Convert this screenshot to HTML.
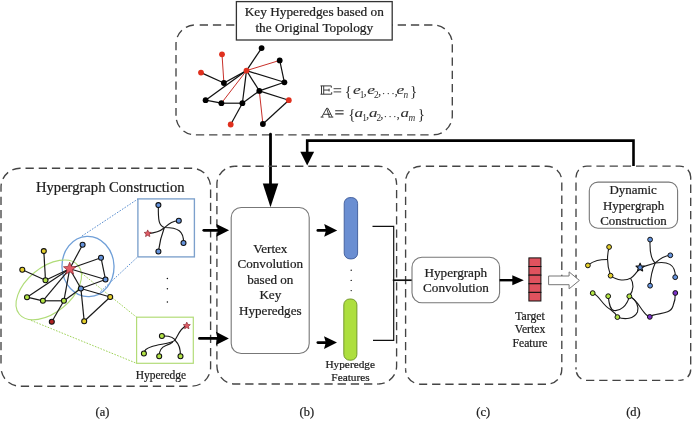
<!DOCTYPE html>
<html><head><meta charset="utf-8"><style>
html,body{margin:0;padding:0;background:#fff;}
svg{display:block;will-change:transform;}
.f{font-family:"Liberation Serif",serif;}
.t{font-family:"Liberation Serif",serif;fill:#202020;stroke:#202020;stroke-width:0.22px;}
</style></head><body>
<svg width="693" height="423" viewBox="0 0 693 423">
<rect width="693" height="423" fill="#fff"/>
<path d="M195,25 H433.3 A19,19 0 0 1 452.3,44" stroke="#444" stroke-width="1.35" fill="none" stroke-dasharray="8.3 4.90" stroke-dashoffset="8.50"/>
<path d="M452.3,44 V115.80000000000001 A19,19 0 0 1 433.3,134.8" stroke="#444" stroke-width="1.35" fill="none" stroke-dasharray="8.3 4.90" stroke-dashoffset="12.90"/>
<path d="M433.3,134.8 H195 A19,19 0 0 1 176,115.80000000000001" stroke="#444" stroke-width="1.35" fill="none" stroke-dasharray="8.3 4.90" stroke-dashoffset="8.50"/>
<path d="M176,115.80000000000001 V44 A19,19 0 0 1 195,25" stroke="#444" stroke-width="1.35" fill="none" stroke-dasharray="8.3 4.90" stroke-dashoffset="0.40"/>
<rect x="236.4" y="1.6" width="155.8" height="38.4" fill="#fff" stroke="#333" stroke-width="1.3"/>
<text x="314.3" y="16.3" class="t" font-size="13.3" text-anchor="middle">Key Hyperedges based on</text>
<text x="314.3" y="31.8" class="t" font-size="13.3" text-anchor="middle">the Original Topology</text>
<line x1="246.5" y1="70.6" x2="261.6" y2="48.1" stroke="#111" stroke-width="1.2"/>
<line x1="246.5" y1="70.6" x2="279.7" y2="60.4" stroke="#c8302a" stroke-width="1.0"/>
<line x1="279.7" y1="60.4" x2="284.4" y2="82.3" stroke="#111" stroke-width="1.2"/>
<line x1="246.5" y1="70.6" x2="284.4" y2="82.3" stroke="#111" stroke-width="1.2"/>
<line x1="222" y1="54.3" x2="223.9" y2="83" stroke="#c8302a" stroke-width="1.0"/>
<line x1="201" y1="72.6" x2="223.9" y2="83" stroke="#111" stroke-width="1.2"/>
<line x1="223.9" y1="83" x2="246.5" y2="70.6" stroke="#111" stroke-width="1.2"/>
<line x1="246.5" y1="70.6" x2="205.6" y2="100.2" stroke="#111" stroke-width="1.2"/>
<line x1="246.5" y1="70.6" x2="221.4" y2="103.2" stroke="#c8302a" stroke-width="1.0"/>
<line x1="246.5" y1="70.6" x2="242.4" y2="103.2" stroke="#111" stroke-width="1.2"/>
<line x1="246.5" y1="70.6" x2="259.3" y2="90.9" stroke="#111" stroke-width="1.2"/>
<line x1="205.6" y1="100.2" x2="221.4" y2="103.2" stroke="#111" stroke-width="1.2"/>
<line x1="221.4" y1="103.2" x2="242.4" y2="103.2" stroke="#111" stroke-width="1.2"/>
<line x1="242.4" y1="103.2" x2="259.3" y2="90.9" stroke="#111" stroke-width="1.2"/>
<line x1="259.3" y1="90.9" x2="284.4" y2="82.3" stroke="#111" stroke-width="1.2"/>
<line x1="259.3" y1="90.9" x2="288.8" y2="100.2" stroke="#111" stroke-width="1.2"/>
<line x1="259.3" y1="90.9" x2="262.9" y2="124" stroke="#c8302a" stroke-width="1.0"/>
<line x1="262.9" y1="124" x2="288.8" y2="100.2" stroke="#111" stroke-width="1.2"/>
<line x1="242.4" y1="103.2" x2="230.7" y2="124.5" stroke="#111" stroke-width="1.2"/>
<circle cx="261.6" cy="48.1" r="2.9" fill="#000"/>
<circle cx="222" cy="54.3" r="2.9" fill="#e0301e"/>
<circle cx="201" cy="72.6" r="2.9" fill="#e0301e"/>
<circle cx="246.5" cy="70.6" r="2.9" fill="#e0301e"/>
<circle cx="279.7" cy="60.4" r="2.9" fill="#000"/>
<circle cx="223.9" cy="83" r="2.9" fill="#000"/>
<circle cx="284.4" cy="82.3" r="2.9" fill="#000"/>
<circle cx="259.3" cy="90.9" r="2.9" fill="#000"/>
<circle cx="205.6" cy="100.2" r="2.9" fill="#000"/>
<circle cx="221.4" cy="103.2" r="2.9" fill="#000"/>
<circle cx="242.4" cy="103.2" r="2.9" fill="#000"/>
<circle cx="288.8" cy="100.2" r="2.9" fill="#e0301e"/>
<circle cx="230.7" cy="124.5" r="2.9" fill="#e0301e"/>
<circle cx="262.9" cy="124" r="2.9" fill="#000"/>
<path d="M320.5,85.9 H331.3 V87.7 M320.5,94.2 H331.7 V92.2 M321.5,85.9 V94.2 M323.7,85.9 V94.2 M323.7,90.05000000000001 H329.1 M329.1,88.65 V91.45000000000002" fill="none" stroke="#303030" stroke-width="0.95"/>
<path d="M333.6,88.7 H341.20000000000005 M333.6,91.89999999999999 H341.20000000000005" stroke="#303030" stroke-width="0.9"/>
<text transform="translate(344.8 96.0) scale(1.0 1)" font-size="15" fill="#303030" class="f" text-anchor="start">{</text>
<text transform="translate(352.9 94.1) scale(1.32 1)" font-size="13.2" font-style="italic" fill="#303030" stroke="#303030" stroke-width="0.12" class="f" text-anchor="start">e</text>
<text transform="translate(359.79999999999995 97.9) scale(1.0 1)" font-size="9.3" fill="#303030" class="f" text-anchor="start">1</text>
<text transform="translate(363.59999999999997 94.6) scale(1.0 1)" font-size="13" fill="#303030" class="f" text-anchor="start">,</text>
<text transform="translate(367.2 94.1) scale(1.32 1)" font-size="13.2" font-style="italic" fill="#303030" stroke="#303030" stroke-width="0.12" class="f" text-anchor="start">e</text>
<text transform="translate(374.09999999999997 97.9) scale(1.0 1)" font-size="9.3" fill="#303030" class="f" text-anchor="start">2</text>
<text transform="translate(377.9 94.6) scale(1.0 1)" font-size="13" fill="#303030" class="f" text-anchor="start">,</text>
<circle cx="383.60" cy="93.6" r="0.72" fill="#303030"/>
<circle cx="388.30" cy="93.6" r="0.72" fill="#303030"/>
<circle cx="393.00" cy="93.6" r="0.72" fill="#303030"/>
<text transform="translate(394.6 94.6) scale(1.0 1)" font-size="13" fill="#303030" class="f" text-anchor="start">,</text>
<text transform="translate(396.6 94.1) scale(1.32 1)" font-size="13.2" font-style="italic" fill="#303030" stroke="#303030" stroke-width="0.12" class="f" text-anchor="start">e</text>
<text transform="translate(403.4 97.9) scale(1.0 1)" font-size="9.3" font-style="italic" fill="#303030" class="f" text-anchor="start">n</text>
<text transform="translate(409.9 96.0) scale(1.0 1)" font-size="15" fill="#303030" class="f" text-anchor="start">}</text>
<path d="M321.8,117.1 L326.59999999999997,108.3 H327.9 L332.2,117.1 M326.59999999999997,108.3 L329.40000000000003,117.1 M323.4,114.3 H330.6 M320.6,117.1 H323.6 M328.40000000000003,117.1 H333.3" fill="none" stroke="#303030" stroke-width="0.95"/>
<path d="M335.2,110.7 H343.59999999999997 M335.2,113.89999999999999 H343.59999999999997" stroke="#303030" stroke-width="1.1"/>
<text transform="translate(348.3 118.9) scale(1.0 1)" font-size="15" fill="#303030" class="f" text-anchor="start">{</text>
<text transform="translate(354.6 117.1) scale(1.28 1)" font-size="13.2" font-style="italic" fill="#303030" stroke="#303030" stroke-width="0.12" class="f" text-anchor="start">a</text>
<text transform="translate(362.3 120.9) scale(1.0 1)" font-size="9.3" fill="#303030" class="f" text-anchor="start">1</text>
<text transform="translate(365.90000000000003 117.6) scale(1.0 1)" font-size="13" fill="#303030" class="f" text-anchor="start">,</text>
<text transform="translate(368.9 117.1) scale(1.28 1)" font-size="13.2" font-style="italic" fill="#303030" stroke="#303030" stroke-width="0.12" class="f" text-anchor="start">a</text>
<text transform="translate(376.59999999999997 120.9) scale(1.0 1)" font-size="9.3" fill="#303030" class="f" text-anchor="start">2</text>
<text transform="translate(380.2 117.6) scale(1.0 1)" font-size="13" fill="#303030" class="f" text-anchor="start">,</text>
<circle cx="385.40" cy="116.6" r="0.72" fill="#303030"/>
<circle cx="390.10" cy="116.6" r="0.72" fill="#303030"/>
<circle cx="394.80" cy="116.6" r="0.72" fill="#303030"/>
<text transform="translate(396.6 117.6) scale(1.0 1)" font-size="13" fill="#303030" class="f" text-anchor="start">,</text>
<text transform="translate(400.6 117.1) scale(1.28 1)" font-size="13.2" font-style="italic" fill="#303030" stroke="#303030" stroke-width="0.12" class="f" text-anchor="start">a</text>
<text transform="translate(408.4 120.9) scale(1.0 1)" font-size="9.3" font-style="italic" fill="#303030" class="f" text-anchor="start">m</text>
<text transform="translate(417.8 118.9) scale(1.0 1)" font-size="15" fill="#303030" class="f" text-anchor="start">}</text>
<line x1="270.5" y1="134.2" x2="270.5" y2="186" stroke="#000" stroke-width="2.8" stroke-linecap="round"/>
<polygon points="262.8,183.4 278.3,183.4 270.5,207.2 " fill="#000"/>
<polyline points="633.5,166 633.5,140.6 307.2,140.6 307.2,154" fill="none" stroke="#000" stroke-width="2.6"/>
<polygon points="300.3,151.8 314.1,151.8 307.2,165.5" fill="#000"/>
<path d="M20,168.2 H191.6 A19,19 0 0 1 210.6,187.2" stroke="#444" stroke-width="1.35" fill="none" stroke-dasharray="8.3 4.90" stroke-dashoffset="7.70"/>
<path d="M210.6,187.2 V367.2 A19,19 0 0 1 191.6,386.2" stroke="#444" stroke-width="1.35" fill="none" stroke-dasharray="8.3 4.90" stroke-dashoffset="10.80"/>
<path d="M191.6,386.2 H20 A19,19 0 0 1 1,367.2" stroke="#444" stroke-width="1.35" fill="none" stroke-dasharray="8.3 4.90" stroke-dashoffset="9.10"/>
<path d="M1,367.2 V187.2 A19,19 0 0 1 20,168.2" stroke="#444" stroke-width="1.35" fill="none" stroke-dasharray="8.3 4.90" stroke-dashoffset="9.40"/>
<path d="M234.9,166.2 H378.6 A18,18 0 0 1 396.6,184.2" stroke="#444" stroke-width="1.35" fill="none" stroke-dasharray="8.3 4.90" stroke-dashoffset="5.80"/>
<path d="M396.6,184.2 V366.0 A18,18 0 0 1 378.6,384.0" stroke="#444" stroke-width="1.35" fill="none" stroke-dasharray="8.3 4.90" stroke-dashoffset="7.50"/>
<path d="M378.6,384.0 H234.9 A18,18 0 0 1 216.9,366.0" stroke="#444" stroke-width="1.35" fill="none" stroke-dasharray="8.3 4.90" stroke-dashoffset="6.90"/>
<path d="M216.9,366.0 V184.2 A18,18 0 0 1 234.9,166.2" stroke="#444" stroke-width="1.35" fill="none" stroke-dasharray="8.3 4.90" stroke-dashoffset="6.70"/>
<path d="M420.6,166.2 H546.8 A15,15 0 0 1 561.8,181.2" stroke="#444" stroke-width="1.35" fill="none" stroke-dasharray="8.3 4.90" stroke-dashoffset="8.00"/>
<path d="M561.8,181.2 V369.2 A15,15 0 0 1 546.8,384.2" stroke="#444" stroke-width="1.35" fill="none" stroke-dasharray="8.3 4.90" stroke-dashoffset="12.00"/>
<path d="M546.8,384.2 H420.6 A15,15 0 0 1 405.6,369.2" stroke="#444" stroke-width="1.35" fill="none" stroke-dasharray="8.3 4.90" stroke-dashoffset="12.40"/>
<path d="M405.6,369.2 V181.2 A15,15 0 0 1 420.6,166.2" stroke="#444" stroke-width="1.35" fill="none" stroke-dasharray="8.3 4.90" stroke-dashoffset="7.40"/>
<path d="M587.0,166.1 H679.7 A11,11 0 0 1 690.7,177.1" stroke="#444" stroke-width="1.35" fill="none" stroke-dasharray="8.3 4.90" stroke-dashoffset="3.80"/>
<path d="M690.7,177.1 V369.4 A11,11 0 0 1 679.7,380.4" stroke="#444" stroke-width="1.35" fill="none" stroke-dasharray="8.3 4.90" stroke-dashoffset="5.70"/>
<path d="M679.7,380.4 H587.0 A11,11 0 0 1 576.0,369.4" stroke="#444" stroke-width="1.35" fill="none" stroke-dasharray="8.3 4.90" stroke-dashoffset="7.00"/>
<path d="M576.0,369.4 V177.1 A11,11 0 0 1 587.0,166.1" stroke="#444" stroke-width="1.35" fill="none" stroke-dasharray="8.3 4.90" stroke-dashoffset="6.10"/>
<text x="36" y="191.6" class="t" font-size="14.6">Hypergraph Construction</text>
<rect x="137.9" y="198.9" width="56.5" height="58" fill="none" stroke="#7ca0cc" stroke-width="1.35"/>
<rect x="136.6" y="317.2" width="56.7" height="46.1" fill="none" stroke="#b3dc78" stroke-width="1.2"/>
<line x1="82" y1="236" x2="137.9" y2="199" stroke="#5b8fd0" stroke-width="1" stroke-dasharray="1.6 1.4"/>
<line x1="100.5" y1="291.6" x2="137.9" y2="256.7" stroke="#5b8fd0" stroke-width="1" stroke-dasharray="1.6 1.4"/>
<line x1="79.5" y1="271.5" x2="136.6" y2="317.2" stroke="#9fd35a" stroke-width="1" stroke-dasharray="1.6 1.4"/>
<line x1="31" y1="320.4" x2="136.6" y2="363.3" stroke="#9fd35a" stroke-width="1" stroke-dasharray="1.6 1.4"/>
<ellipse cx="88" cy="266.5" rx="26" ry="30.2" transform="rotate(-2.2 88 266.5)" fill="none" stroke="#6f9fd8" stroke-width="1.3"/>
<ellipse cx="48.8" cy="289.9" rx="38.2" ry="22.5" transform="rotate(-39.6 48.8 289.9)" fill="none" stroke="#b0dc78" stroke-width="1.15"/>
<line x1="69.7" y1="268.8" x2="82.6" y2="244.7" stroke="#1a1a1a" stroke-width="1.2"/>
<line x1="69.7" y1="268.8" x2="101" y2="257.7" stroke="#1a1a1a" stroke-width="1.2"/>
<line x1="69.7" y1="268.8" x2="105.5" y2="279.5" stroke="#1a1a1a" stroke-width="1.2"/>
<line x1="69.7" y1="268.8" x2="80.9" y2="288.5" stroke="#1a1a1a" stroke-width="1.2"/>
<line x1="101" y1="257.7" x2="105.5" y2="279.5" stroke="#1a1a1a" stroke-width="1.2"/>
<line x1="105.5" y1="279.5" x2="80.9" y2="288.5" stroke="#1a1a1a" stroke-width="1.2"/>
<line x1="80.9" y1="288.5" x2="110.2" y2="297" stroke="#1a1a1a" stroke-width="1.2"/>
<line x1="80.9" y1="288.5" x2="84.2" y2="321.3" stroke="#1a1a1a" stroke-width="1.2"/>
<line x1="84.2" y1="321.3" x2="110.2" y2="297" stroke="#1a1a1a" stroke-width="1.2"/>
<line x1="80.9" y1="288.5" x2="63.9" y2="300.8" stroke="#1a1a1a" stroke-width="1.2"/>
<line x1="69.7" y1="268.8" x2="45.5" y2="280.2" stroke="#1a1a1a" stroke-width="1.2"/>
<line x1="69.7" y1="268.8" x2="27" y2="297.2" stroke="#1a1a1a" stroke-width="1.2"/>
<line x1="69.7" y1="268.8" x2="42.9" y2="300.8" stroke="#1a1a1a" stroke-width="1.2"/>
<line x1="69.7" y1="268.8" x2="63.9" y2="300.8" stroke="#1a1a1a" stroke-width="1.2"/>
<line x1="43.8" y1="251.1" x2="45.5" y2="280.2" stroke="#1a1a1a" stroke-width="1.2"/>
<line x1="22.3" y1="269.8" x2="45.5" y2="280.2" stroke="#1a1a1a" stroke-width="1.2"/>
<line x1="27" y1="297.2" x2="42.9" y2="300.8" stroke="#1a1a1a" stroke-width="1.2"/>
<line x1="42.9" y1="300.8" x2="63.9" y2="300.8" stroke="#1a1a1a" stroke-width="1.2"/>
<line x1="63.9" y1="300.8" x2="51.8" y2="321.8" stroke="#1a1a1a" stroke-width="1.2"/>
<circle cx="82.6" cy="244.7" r="2.5" fill="#6593dc" stroke="#111" stroke-width="1.05"/>
<circle cx="101" cy="257.7" r="2.5" fill="#6593dc" stroke="#111" stroke-width="1.05"/>
<circle cx="105.5" cy="279.5" r="2.5" fill="#6593dc" stroke="#111" stroke-width="1.05"/>
<circle cx="80.9" cy="288.5" r="2.5" fill="#6593dc" stroke="#111" stroke-width="1.05"/>
<circle cx="43.8" cy="251.1" r="2.5" fill="#e5cf2c" stroke="#111" stroke-width="1.05"/>
<circle cx="22.3" cy="269.8" r="2.5" fill="#e5cf2c" stroke="#111" stroke-width="1.05"/>
<circle cx="45.5" cy="280.2" r="2.5" fill="#b2e445" stroke="#111" stroke-width="1.05"/>
<circle cx="27" cy="297.2" r="2.5" fill="#b2e445" stroke="#111" stroke-width="1.05"/>
<circle cx="42.9" cy="300.8" r="2.5" fill="#b2e445" stroke="#111" stroke-width="1.05"/>
<circle cx="63.9" cy="300.8" r="2.5" fill="#b2e445" stroke="#111" stroke-width="1.05"/>
<circle cx="51.8" cy="321.8" r="2.5" fill="#b02020" stroke="#111" stroke-width="1.05"/>
<circle cx="84.2" cy="321.3" r="2.5" fill="#e5cf2c" stroke="#111" stroke-width="1.05"/>
<circle cx="110.2" cy="297" r="2.5" fill="#e5cf2c" stroke="#111" stroke-width="1.05"/>
<polygon points="69.70,262.20 71.45,266.40 75.98,266.76 72.52,269.72 73.58,274.14 69.70,271.77 65.82,274.14 66.88,269.72 63.42,266.76 67.95,266.40" fill="#e05a64" stroke="#7a1a20" stroke-width="0.6"/>
<path d="M158.4,205.1 C158,221 159,226 164.5,227.5 C178,227.5 184,231 183.5,242.9" fill="none" stroke="#1a1a1a" stroke-width="1.15"/>
<path d="M147.8,233.6 C155,233 160,231.5 164,228 C169,224 173,220.5 178.8,220.8" fill="none" stroke="#1a1a1a" stroke-width="1.15"/>
<path d="M164.2,228 C161.5,235 159.5,243 158.4,251.4" fill="none" stroke="#1a1a1a" stroke-width="1.15"/>
<circle cx="158.4" cy="205.1" r="2.5" fill="#6593dc" stroke="#111" stroke-width="1.05"/>
<circle cx="178.8" cy="220.8" r="2.5" fill="#6593dc" stroke="#111" stroke-width="1.05"/>
<circle cx="183.5" cy="242.9" r="2.5" fill="#6593dc" stroke="#111" stroke-width="1.05"/>
<circle cx="158.4" cy="251.4" r="2.5" fill="#6593dc" stroke="#111" stroke-width="1.05"/>
<polygon points="147.70,229.90 148.73,232.18 151.22,232.46 149.36,234.14 149.87,236.59 147.70,235.35 145.53,236.59 146.04,234.14 144.18,232.46 146.67,232.18" fill="#e05a64" stroke="#7a1a20" stroke-width="0.6"/>
<path d="M186.7,325.9 C181,327 178,335 175.1,340 C172.5,343.5 160,344 152,346.5 C147,348 144,350 143.9,353.4" fill="none" stroke="#1a1a1a" stroke-width="1.15"/>
<path d="M161.9,336 C172,335.5 175,339 176,341.5 C179,344 180.5,349 180.5,356.3" fill="none" stroke="#1a1a1a" stroke-width="1.15"/>
<path d="M159.2,356.3 C159,350 162,347 166,345.5 C169,344.5 171,343.5 172.8,342" fill="none" stroke="#1a1a1a" stroke-width="1.15"/>
<circle cx="161.9" cy="336" r="2.5" fill="#b2e445" stroke="#111" stroke-width="1.05"/>
<circle cx="143.9" cy="353.4" r="2.5" fill="#b2e445" stroke="#111" stroke-width="1.05"/>
<circle cx="159.2" cy="356.3" r="2.5" fill="#b2e445" stroke="#111" stroke-width="1.05"/>
<circle cx="180.5" cy="356.3" r="2.5" fill="#b2e445" stroke="#111" stroke-width="1.05"/>
<polygon points="186.80,322.10 187.83,324.38 190.32,324.66 188.46,326.34 188.97,328.79 186.80,327.55 184.63,328.79 185.14,326.34 183.28,324.66 185.77,324.38" fill="#e05a64" stroke="#7a1a20" stroke-width="0.6"/>
<circle cx="167.4" cy="278.5" r="0.75" fill="#111"/>
<circle cx="167.4" cy="288.8" r="0.75" fill="#111"/>
<circle cx="167.4" cy="301.9" r="0.75" fill="#111"/>
<text x="135.7" y="379.2" class="t" font-size="11.5">Hyperedge</text>
<line x1="203.8" y1="230.3" x2="218.39999999999998" y2="230.3" stroke="#000" stroke-width="2.8" stroke-linecap="round"/>
<polygon points="216.30,223.90 229.1,230.3 216.30,236.70 217.90,230.3" fill="#000"/>
<line x1="199.5" y1="338.4" x2="218.0" y2="338.4" stroke="#000" stroke-width="2.8" stroke-linecap="round"/>
<polygon points="215.90,331.70 228.9,338.4 215.90,345.10 217.50,338.4" fill="#000"/>
<rect x="231.2" y="207.5" width="78" height="146" rx="10" fill="none" stroke="#777" stroke-width="1.1"/>
<g class="t" font-size="13.1" text-anchor="middle">
<text x="270.3" y="253.00">Vertex</text>
<text x="270.3" y="268.45">Convolution</text>
<text x="270.3" y="283.90">based on</text>
<text x="270.3" y="299.35">Key</text>
<text x="270.3" y="314.80">Hyperedges</text>
</g>
<line x1="317.8" y1="230.4" x2="326.5" y2="230.4" stroke="#000" stroke-width="2.6" stroke-linecap="round"/>
<polygon points="324.20,224.10 337.2,230.4 324.20,236.70 326.00,230.4" fill="#000"/>
<line x1="317.8" y1="342.6" x2="326.3" y2="342.6" stroke="#000" stroke-width="2.6" stroke-linecap="round"/>
<polygon points="324.00,336.30 337.0,342.6 324.00,348.90 325.80,342.6" fill="#000"/>
<rect x="344.2" y="197.6" width="13.4" height="61.3" rx="5.8" fill="#6a8ed2" stroke="#3d5a98" stroke-width="0.9"/>
<rect x="343.8" y="299" width="13.1" height="61.2" rx="5.8" fill="#addf3e" stroke="#6a8f22" stroke-width="0.9"/>
<circle cx="351.2" cy="270.2" r="0.7" fill="#111"/>
<circle cx="351.2" cy="280.4" r="0.7" fill="#111"/>
<circle cx="351.2" cy="290.6" r="0.7" fill="#111"/>
<polyline points="372.5,226.3 393.7,226.3 393.7,340.4 373,340.4" fill="none" stroke="#111" stroke-width="1.2"/>
<line x1="392.8" y1="280.2" x2="412" y2="280.2" stroke="#111" stroke-width="1.7"/>
<text x="350.2" y="367.6" class="t" font-size="11.3" text-anchor="middle">Hyperedge</text>
<text x="350.5" y="381.4" class="t" font-size="11.3" text-anchor="middle">Features</text>
<rect x="412" y="257.2" width="87.6" height="45.6" rx="10" fill="none" stroke="#777" stroke-width="1.1"/>
<text x="455.8" y="276.8" class="t" font-size="13.2" text-anchor="middle">Hypergraph</text>
<text x="456" y="291.9" class="t" font-size="13.2" text-anchor="middle">Convolution</text>
<line x1="499.6" y1="280.2" x2="513" y2="280.2" stroke="#000" stroke-width="2.4"/>
<polygon points="512.3,275.2 523.8,280.2 512.3,285.2" fill="#000"/>
<rect x="528.9" y="257.90" width="12" height="8.62" fill="#e0525e" stroke="#111" stroke-width="1"/>
<rect x="528.9" y="266.52" width="12" height="8.62" fill="#e0525e" stroke="#111" stroke-width="1"/>
<rect x="528.9" y="275.14" width="12" height="8.62" fill="#e0525e" stroke="#111" stroke-width="1"/>
<rect x="528.9" y="283.76" width="12" height="8.62" fill="#e0525e" stroke="#111" stroke-width="1"/>
<rect x="528.9" y="292.38" width="12" height="8.62" fill="#e0525e" stroke="#111" stroke-width="1"/>
<g class="t" font-size="11.7" text-anchor="middle">
<text x="530" y="319.7">Target</text><text x="530" y="333.4">Vertex</text><text x="530" y="346.9">Feature</text>
</g>
<polygon points="548.6,276 569.1,276 569.1,271.9 579.4,280.4 569.1,288.9 569.1,284.7 548.6,284.7" fill="#fff" stroke="#777" stroke-width="1"/>
<rect x="589.3" y="182.1" width="88.3" height="46.1" rx="8.7" fill="#fff" stroke="#777" stroke-width="1.1"/>
<g class="t" font-size="12.9" text-anchor="middle">
<text x="633.2" y="194.1">Dynamic</text><text x="633.6" y="209.6">Hypergraph</text><text x="633.5" y="224.9">Construction</text>
</g>
<path d="M609.1,247 C606.5,257 607,266 610.6,275.7" fill="none" stroke="#1a1a1a" stroke-width="1.1"/>
<path d="M587.9,265.4 C594,260 600,259.5 607.4,259.5" fill="none" stroke="#1a1a1a" stroke-width="1.1"/>
<path d="M610.6,275.7 C617,281 626,281 631,278 C634,276 637,272 640.1,267.6" fill="none" stroke="#1a1a1a" stroke-width="1.1"/>
<path d="M630.5,278.2 C634,283 634,290 629.3,296.3" fill="none" stroke="#1a1a1a" stroke-width="1.1"/>
<path d="M640.1,267.6 L655.2,263" fill="none" stroke="#1a1a1a" stroke-width="1.1"/>
<path d="M650.1,239.6 C649.5,251 651,259 655.2,263" fill="none" stroke="#1a1a1a" stroke-width="1.1"/>
<path d="M655.2,263 C652,270 650.5,278 650.1,285.7" fill="none" stroke="#1a1a1a" stroke-width="1.1"/>
<path d="M670.3,255.3 C663.5,256 659,259.5 655.2,263" fill="none" stroke="#1a1a1a" stroke-width="1.1"/>
<path d="M655.2,263 C667,261 676,264 675.2,277.2" fill="none" stroke="#1a1a1a" stroke-width="1.1"/>
<path d="M592.7,293.1 C600,296 602,305 610.5,309.5 C614,312 616,314 617.4,317.1" fill="none" stroke="#1a1a1a" stroke-width="1.1"/>
<path d="M608.2,296.2 C609,303 610,310 614,310.5 C620,311.5 627,306 629.3,296.3" fill="none" stroke="#1a1a1a" stroke-width="1.1"/>
<path d="M629.3,296.3 C637,300 639,307 637.5,312 C634,319 625,320 617.4,317.1" fill="none" stroke="#1a1a1a" stroke-width="1.1"/>
<path d="M629.3,296.3 C636,299 639,306 643,311 C645,314 647,316 649.8,316.9" fill="none" stroke="#1a1a1a" stroke-width="1.1"/>
<path d="M649.8,316.9 C655,312 670,316 673,306 C675,301 675.5,297 675.3,293" fill="none" stroke="#1a1a1a" stroke-width="1.1"/>
<circle cx="609.1" cy="247" r="2.4" fill="#e5cf2c" stroke="#111" stroke-width="1.0"/>
<circle cx="587.9" cy="265.4" r="2.4" fill="#e5cf2c" stroke="#111" stroke-width="1.0"/>
<circle cx="610.6" cy="275.7" r="2.4" fill="#e5cf2c" stroke="#111" stroke-width="1.0"/>
<circle cx="650.1" cy="239.6" r="2.4" fill="#6593dc" stroke="#111" stroke-width="1.0"/>
<circle cx="670.3" cy="255.3" r="2.4" fill="#6593dc" stroke="#111" stroke-width="1.0"/>
<circle cx="675.2" cy="277.2" r="2.4" fill="#6593dc" stroke="#111" stroke-width="1.0"/>
<circle cx="650.1" cy="285.7" r="2.4" fill="#6593dc" stroke="#111" stroke-width="1.0"/>
<circle cx="592.7" cy="293.1" r="2.4" fill="#b2e445" stroke="#111" stroke-width="1.0"/>
<circle cx="608.2" cy="296.2" r="2.4" fill="#b2e445" stroke="#111" stroke-width="1.0"/>
<circle cx="629.3" cy="296.3" r="2.4" fill="#b2e445" stroke="#111" stroke-width="1.0"/>
<circle cx="617.4" cy="317.1" r="2.4" fill="#b2e445" stroke="#111" stroke-width="1.0"/>
<circle cx="649.8" cy="316.9" r="2.4" fill="#7a30c8" stroke="#111" stroke-width="1.0"/>
<circle cx="675.3" cy="293" r="2.4" fill="#7a30c8" stroke="#111" stroke-width="1.0"/>
<polygon points="640.10,263.20 641.28,265.88 644.19,266.17 642.00,268.12 642.63,270.98 640.10,269.50 637.57,270.98 638.20,268.12 636.01,266.17 638.92,265.88" fill="#5b8ad8" stroke="#111" stroke-width="1.15" stroke-linejoin="round"/>
<g class="t" font-size="12.4" text-anchor="middle">
<text x="102.4" y="416">(a)</text><text x="306.8" y="416">(b)</text><text x="483.2" y="416">(c)</text><text x="633.4" y="416">(d)</text>
</g>
</svg>
</body></html>
